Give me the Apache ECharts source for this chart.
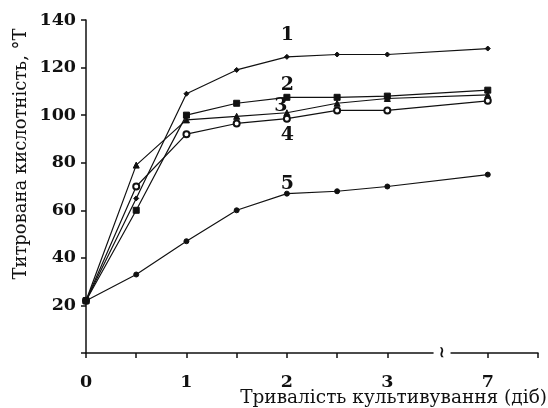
<!DOCTYPE html>
<html><head><meta charset="utf-8">
<script src="https://cdn.jsdelivr.net/npm/echarts@6/dist/echarts.min.js"></script>
<style>html,body{margin:0;padding:0;background:#fff}#c{width:548px;height:408px}</style>
</head><body><div id="c"></div>
<script>
// x positions: days 0..3 in half steps, then day 7 drawn after an axis break (position 4)
const xPositions = [0, 0.5, 1, 1.5, 2, 2.5, 3, 4];
const xTickLabels = {0: '0', 1: '1', 2: '2', 3: '3', 4: '7'};
const series1 = [22, 65, 109, 119, 124.5, 125.5, 125.5, 128];
const series2 = [22, 60, 100, 105, 107.5, 107.5, 108, 110.5];
const series3 = [22, 79, 98, 99.5, 101, 105, 107, 108.5];
const series4 = [22, 70, 92, 96.5, 98.5, 102, 102, 106];
const series5 = [22, 33, 47, 60, 67, 68, 70, 75];
const curveNames = ['1', '2', '3', '4', '5'];
const curveLabelPos = [[2.005, 133.5], [2.005, 112.5], [1.94, 104], [2.005, 91.5], [2.005, 71]];
const yTitle = 'Титрована кислотність, °Т';
const xTitle = 'Тривалість культивування (діб)';

const serif = '"DejaVu Serif", "Liberation Serif", serif';
const symbols = ['diamond', 'rect', 'triangle', 'emptyCircle', 'circle'];
const sizes = [5, 6, 6, 6, 5];
const allData = [series1, series2, series3, series4, series5];

const chart = echarts.init(document.getElementById('c'));
const option = {
  animation: false,
  backgroundColor: '#fff',
  grid: {left: 86, top: 20, right: 10, bottom: 55},
  xAxis: {
    type: 'value', min: 0, max: 4.5, interval: 0.5,
    splitLine: {show: false},
    axisLine: {lineStyle: {color: '#111', width: 1.5}},
    axisTick: {show: true, length: 5, lineStyle: {color: '#111', width: 1.5}},
    axisLabel: {
      margin: 20, color: '#111', fontFamily: serif, fontWeight: 'bold', fontSize: 17.5,
      formatter: v => (xTickLabels[v] !== undefined ? xTickLabels[v] : '')
    }
  },
  yAxis: {
    type: 'value', min: 0, max: 140, interval: 20,
    splitLine: {show: false},
    axisLine: {show: true, lineStyle: {color: '#111', width: 1.5}},
    axisTick: {show: true, length: 5, lineStyle: {color: '#111', width: 1.5}},
    axisLabel: {
      margin: 10, color: '#111', fontFamily: serif, fontWeight: 'bold', fontSize: 17.5,
      formatter: v => (v === 0 ? '' : String(v))
    }
  },
  series: allData.map((d, i) => ({
    type: 'line',
    data: xPositions.map((x, j) => [x, d[j]]),
    symbol: symbols[i],
    symbolSize: sizes[i],
    showAllSymbol: true,
    lineStyle: {color: '#111', width: 1.2},
    itemStyle: {color: '#111', borderColor: '#111', borderWidth: 1},
    markPoint: {
      symbol: 'circle', symbolSize: 1,
      itemStyle: {color: 'rgba(0,0,0,0)'},
      label: {show: true, position: 'inside', formatter: curveNames[i], color: '#111',
        fontFamily: serif, fontWeight: 'bold', fontSize: 19},
      data: [{coord: curveLabelPos[i]}]
    }
  }))
};
chart.setOption(option);

const bx = chart.convertToPixel({xAxisIndex: 0}, 3.5);
const by = chart.convertToPixel({yAxisIndex: 0}, 0);
chart.setOption({
  graphic: [
    {type: 'rect', shape: {x: bx - 4, y: by - 4, width: 17, height: 12}, style: {fill: '#fff'}, z: 100},
    {type: 'text', x: bx + 4, y: by, style: {text: '≀', font: 'bold 15px ' + serif, fill: '#111', align: 'center', verticalAlign: 'middle'}, z: 101},
    {type: 'text', x: 21, y: 154, rotation: Math.PI / 2,
      style: {text: yTitle, font: '18px ' + serif, fill: '#111', align: 'center', verticalAlign: 'middle'}},
    {type: 'text', x: 547, y: 398,
      style: {text: xTitle, font: '18.5px ' + serif, fill: '#111', align: 'right', verticalAlign: 'middle'}}
  ]
});
</script>
</body></html>
